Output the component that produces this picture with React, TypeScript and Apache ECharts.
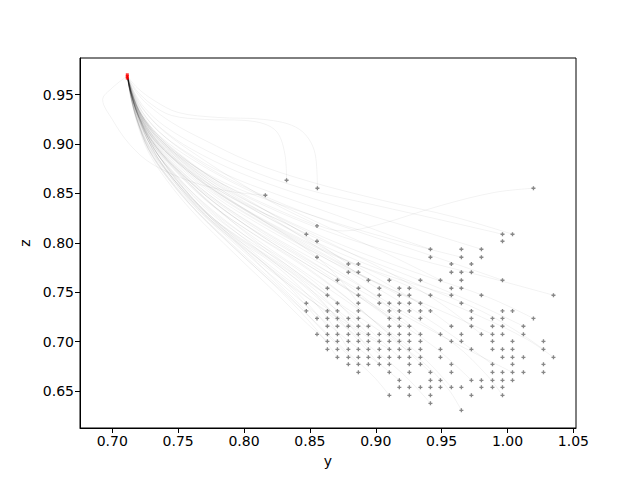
import React, { useEffect, useRef } from 'react';
import * as echarts from 'echarts';

// tick labels
const xTicks = [0.7, 0.75, 0.8, 0.85, 0.9, 0.95, 1.0, 1.05];
const yTicks = [0.65, 0.7, 0.75, 0.8, 0.85, 0.9, 0.95];

// start points (red)
const startPoints: [number, number][] = [
  [0.7114, 0.9668],
  [0.7114, 0.9685],
  [0.7114, 0.9702],
];

// end points, one row per z value: [z, y values]
const pointRows: [number, number[]][] = [
  [0.8634, [0.8323]],
  [0.8553, [0.8557, 1.0197]],
  [0.8482, [0.8162]],
  [0.8171, [0.8554]],
  [0.8087, [0.8473, 0.9962, 1.0038]],
  [0.8016, [0.8554, 0.9962]],
  [0.7935, [0.9415, 0.965, 0.9802]],
  [0.7854, [0.8554, 0.9415, 0.965, 0.9802]],
  [0.7785, [0.8792, 0.8868, 0.9574, 0.9726]],
  [0.7702, [0.8792, 0.8868, 0.9574, 0.965, 0.9726]],
  [0.7621, [0.8709, 0.8944, 0.9103, 0.9339, 0.9491, 0.965, 0.9962]],
  [0.754, [0.8633, 0.8868, 0.9027, 0.9179, 0.9255, 0.9574, 0.965]],
  [0.7469, [0.8633, 0.8868, 0.9027, 0.9179, 0.9255, 0.9415, 0.9574, 0.9802, 1.0349]],
  [0.7388, [0.8473, 0.8709, 0.8868, 0.9027, 0.9103, 0.9179, 0.9255, 0.9339, 0.965]],
  [0.731, [0.8473, 0.8633, 0.8709, 0.8868, 0.9103, 0.9179, 0.9255, 0.9339, 0.9415, 0.9726, 0.9962, 1.0038]],
  [0.7234, [0.8554, 0.8633, 0.8709, 0.8792, 0.8868, 0.9103, 0.9179, 0.9339, 0.9726, 0.9886, 0.9962, 1.0197]],
  [0.7155, [0.8633, 0.8709, 0.8792, 0.8868, 0.8944, 0.9103, 0.9179, 0.9255, 0.9574, 0.9726, 0.9886, 0.9962, 1.0121]],
  [0.7073, [0.8554, 0.8633, 0.8709, 0.8792, 0.8868, 0.8944, 0.9027, 0.9103, 0.9179, 0.9255, 0.9339, 0.9491, 0.965, 0.9802, 0.9886, 0.9962, 1.0121]],
  [0.7002, [0.8633, 0.8709, 0.8792, 0.8868, 0.8944, 0.9027, 0.9103, 0.9179, 0.9255, 0.9339, 0.9574, 0.965, 0.9886, 1.0038, 1.0273]],
  [0.6921, [0.8633, 0.8709, 0.8792, 0.8868, 0.8944, 0.9027, 0.9103, 0.9179, 0.9255, 0.9339, 0.9491, 0.9726, 0.9886, 0.9962, 1.0038, 1.0273]],
  [0.684, [0.8709, 0.8792, 0.8868, 0.8944, 0.9027, 0.9103, 0.9179, 0.9255, 0.9339, 0.9491, 0.9962, 1.0038, 1.0121, 1.0349]],
  [0.6769, [0.8792, 0.8868, 0.8944, 0.9027, 0.9103, 0.9255, 0.9339, 0.9574, 0.9886, 1.0038, 1.0273]],
  [0.6688, [0.8868, 0.9103, 0.9255, 0.9415, 0.9574, 0.9886, 0.9962, 1.0038, 1.0121, 1.0273]],
  [0.6607, [0.9179, 0.9415, 0.9491, 0.9726, 0.9802, 0.9886, 0.9962, 1.0038]],
  [0.6536, [0.9179, 0.9255, 0.9339, 0.9415, 0.9491, 0.9574, 0.965, 0.9802, 0.9886, 0.9962]],
  [0.6455, [0.9103, 0.9255, 0.9415, 0.9726, 0.9962]],
  [0.6374, [0.9415]],
  [0.6303, [0.965]],
];

// trajectories: outer fan
const fanPaths: [number, number][][] = [
  [[0.7114,0.969],[0.7155,0.95],[0.722,0.93],[0.733,0.91],[0.75,0.89],[0.775,0.866],[0.805,0.846],[0.835,0.828],[0.8554,0.8171]],
  [[0.7114,0.969],[0.715,0.948],[0.721,0.926],[0.732,0.904],[0.75,0.882],[0.775,0.858],[0.805,0.836],[0.83,0.821],[0.8473,0.8087]],
  [[0.7114,0.969],[0.716,0.951],[0.723,0.932],[0.735,0.913],[0.755,0.893],[0.785,0.87],[0.825,0.849],[0.87,0.828],[0.91,0.808],[0.9415,0.7935]],
  [[0.7114,0.969],[0.7165,0.953],[0.725,0.936],[0.74,0.918],[0.765,0.898],[0.8,0.876],[0.845,0.855],[0.9,0.838],[0.95,0.823],[0.9962,0.8087]],
  [[0.7114,0.969],[0.717,0.955],[0.727,0.94],[0.745,0.922],[0.77,0.904],[0.805,0.882],[0.85,0.862],[0.905,0.843],[0.96,0.826],[1.0038,0.8087]],
  [[0.7114,0.969],[0.7155,0.949],[0.722,0.928],[0.735,0.906],[0.755,0.884],[0.785,0.861],[0.825,0.84],[0.875,0.818],[0.925,0.799],[0.965,0.7854]],
  [[0.7114,0.969],[0.716,0.952],[0.724,0.934],[0.738,0.915],[0.76,0.895],[0.795,0.872],[0.84,0.85],[0.89,0.83],[0.94,0.81],[0.9802,0.7935]],
  [[0.7114,0.969],[0.7165,0.952],[0.725,0.933],[0.74,0.912],[0.765,0.888],[0.8,0.858],[0.84,0.828],[0.875,0.812],[0.9009,0.818],[0.95,0.838],[0.99,0.851],[1.0197,0.8553]],
  [[0.7114,0.969],[0.718,0.955],[0.73,0.94],[0.745,0.929],[0.77,0.925],[0.8,0.924],[0.823,0.915],[0.831,0.89],[0.8323,0.8634]],
  [[0.7114,0.969],[0.719,0.957],[0.732,0.944],[0.75,0.932],[0.78,0.927],[0.815,0.925],[0.842,0.915],[0.854,0.89],[0.8557,0.8553]],
  [[0.7114,0.969],[0.7,0.957],[0.6927,0.945],[0.7,0.925],[0.713,0.9],[0.73,0.88],[0.76,0.862],[0.79,0.852],[0.8162,0.8482]],
  [[0.7114,0.969],[0.715,0.947],[0.72,0.925],[0.729,0.903],[0.745,0.878],[0.77,0.846],[0.805,0.806],[0.84,0.77],[0.8633,0.7469]],
  [[0.7114,0.969],[0.7145,0.946],[0.7195,0.922],[0.728,0.897],[0.743,0.87],[0.765,0.838],[0.795,0.8],[0.825,0.76],[0.8473,0.731]],
  [[0.7114,0.969],[0.7148,0.947],[0.72,0.924],[0.7285,0.9],[0.744,0.874],[0.768,0.84],[0.805,0.799],[0.845,0.758],[0.8868,0.7155]],
  [[0.7114,0.969],[0.7145,0.946],[0.7195,0.922],[0.7275,0.895],[0.742,0.866],[0.764,0.832],[0.795,0.792],[0.83,0.748],[0.855,0.712],[0.8709,0.684]],
  [[0.7114,0.969],[0.7147,0.946],[0.7198,0.923],[0.7283,0.898],[0.7435,0.871],[0.767,0.837],[0.802,0.796],[0.843,0.753],[0.88,0.718],[0.9027,0.7002]],
  [[0.7114,0.969],[0.7152,0.949],[0.721,0.928],[0.731,0.906],[0.748,0.883],[0.775,0.855],[0.815,0.822],[0.86,0.789],[0.895,0.763],[0.9179,0.7469]],
  [[0.7114,0.969],[0.715,0.948],[0.7205,0.926],[0.73,0.903],[0.746,0.878],[0.772,0.847],[0.81,0.81],[0.855,0.772],[0.895,0.74],[0.9255,0.7155]],
  [[0.7114,0.969],[0.7155,0.95],[0.722,0.929],[0.733,0.908],[0.752,0.885],[0.78,0.858],[0.82,0.826],[0.86,0.792],[0.8944,0.7621]],
  [[0.7114,0.969],[0.7155,0.95],[0.722,0.93],[0.734,0.91],[0.753,0.888],[0.78,0.862],[0.815,0.834],[0.85,0.805],[0.8792,0.7785]],
  [[0.7114,0.969],[0.7146,0.946],[0.7196,0.922],[0.728,0.896],[0.743,0.868],[0.766,0.834],[0.8,0.793],[0.842,0.75],[0.88,0.716],[0.9103,0.6921]],
  [[0.7114,0.969],[0.7145,0.945],[0.7195,0.921],[0.7275,0.895],[0.7425,0.866],[0.765,0.831],[0.798,0.79],[0.835,0.745],[0.865,0.704],[0.8868,0.6769]],
  [[0.7114,0.969],[0.7144,0.945],[0.7192,0.92],[0.727,0.893],[0.741,0.864],[0.762,0.83],[0.792,0.79],[0.825,0.748],[0.848,0.718],[0.8633,0.7002]],
  [[0.7114,0.969],[0.7152,0.949],[0.7212,0.928],[0.7315,0.906],[0.749,0.882],[0.777,0.853],[0.818,0.819],[0.865,0.784],[0.905,0.757],[0.9339,0.7388]],
  [[0.7114,0.969],[0.7146,0.946],[0.7198,0.922],[0.7282,0.897],[0.7435,0.869],[0.767,0.835],[0.803,0.793],[0.845,0.748],[0.885,0.706],[0.92,0.668],[0.9415,0.6374]],
  [[0.7114,0.969],[0.7148,0.947],[0.72,0.924],[0.729,0.9],[0.745,0.873],[0.77,0.84],[0.808,0.8],[0.852,0.757],[0.895,0.718],[0.935,0.68],[0.955,0.652],[0.965,0.6303]],
  [[0.7114,0.969],[0.7145,0.945],[0.7196,0.921],[0.7278,0.895],[0.7428,0.866],[0.766,0.832],[0.8,0.791],[0.84,0.745],[0.878,0.702],[0.905,0.675],[0.9179,0.6607]],
  [[0.7114,0.969],[0.7144,0.945],[0.7194,0.921],[0.7275,0.894],[0.7422,0.865],[0.765,0.83],[0.798,0.788],[0.837,0.741],[0.872,0.697],[0.898,0.665],[0.9103,0.6455]],
  [[0.7114,0.969],[0.715,0.948],[0.7204,0.925],[0.7295,0.902],[0.7455,0.876],[0.771,0.843],[0.81,0.803],[0.855,0.762],[0.898,0.722],[0.935,0.685],[0.9574,0.6536]],
  [[0.7114,0.969],[0.7152,0.949],[0.7208,0.927],[0.7305,0.904],[0.747,0.879],[0.774,0.848],[0.815,0.812],[0.865,0.774],[0.915,0.735],[0.96,0.697],[0.985,0.665],[0.9962,0.6455]],
  [[0.7114,0.969],[0.715,0.948],[0.7206,0.926],[0.73,0.903],[0.7462,0.878],[0.7725,0.846],[0.812,0.808],[0.86,0.768],[0.905,0.73],[0.945,0.694],[0.9726,0.6607]],
  [[0.7114,0.969],[0.7158,0.951],[0.7225,0.931],[0.734,0.91],[0.753,0.887],[0.782,0.861],[0.825,0.832],[0.875,0.806],[0.93,0.784],[0.985,0.765],[1.0349,0.7469]],
  [[0.7114,0.969],[0.7154,0.95],[0.7214,0.929],[0.732,0.907],[0.75,0.883],[0.778,0.853],[0.82,0.82],[0.87,0.787],[0.925,0.756],[0.98,0.725],[1.015,0.702],[1.0349,0.684]],
  [[0.7114,0.969],[0.7155,0.95],[0.7218,0.929],[0.7325,0.907],[0.751,0.884],[0.779,0.855],[0.822,0.823],[0.872,0.79],[0.928,0.76],[0.98,0.731],[1.01,0.708],[1.0273,0.6921]],
  [[0.7114,0.969],[0.7157,0.951],[0.7222,0.93],[0.7335,0.909],[0.752,0.886],[0.781,0.858],[0.824,0.828],[0.874,0.798],[0.93,0.77],[0.985,0.745],[1.0197,0.7234]],
  [[0.7114,0.969],[0.7153,0.949],[0.7212,0.928],[0.7315,0.905],[0.749,0.881],[0.776,0.851],[0.817,0.817],[0.865,0.782],[0.915,0.751],[0.96,0.725],[0.9886,0.7073]],
  [[0.7114,0.969],[0.7156,0.95],[0.722,0.93],[0.733,0.908],[0.7515,0.885],[0.78,0.856],[0.823,0.825],[0.873,0.794],[0.928,0.765],[0.975,0.739],[1.0121,0.7155]],
  [[0.7114,0.969],[0.716,0.952],[0.7232,0.932],[0.736,0.912],[0.757,0.89],[0.788,0.865],[0.832,0.838],[0.885,0.812],[0.94,0.788],[0.9962,0.7621]],
  [[0.7114,0.969],[0.7154,0.949],[0.7215,0.928],[0.732,0.906],[0.75,0.882],[0.778,0.853],[0.82,0.819],[0.87,0.786],[0.92,0.762],[0.9574,0.7469]],
  [[0.7114,0.969],[0.7151,0.948],[0.7207,0.926],[0.7302,0.903],[0.7465,0.878],[0.7735,0.847],[0.814,0.81],[0.863,0.771],[0.913,0.733],[0.958,0.7],[1.0038,0.6688]],
];

// trajectories: dense core band
const bandPaths: [number, number][][] = [
  [[0.7114,0.969],[0.7134,0.955],[0.7197,0.929],[0.731,0.897],[0.749,0.864],[0.772,0.83],[0.795,0.806],[0.82,0.784],[0.845,0.76],[0.8709,0.7234]],
  [[0.7114,0.969],[0.7134,0.955],[0.7195,0.928],[0.7305,0.895],[0.748,0.862],[0.771,0.828],[0.795,0.803],[0.822,0.779],[0.85,0.745],[0.868,0.715],[0.8792,0.6921]],
  [[0.7114,0.969],[0.7136,0.954],[0.72,0.928],[0.732,0.897],[0.751,0.865],[0.775,0.833],[0.8,0.808],[0.83,0.783],[0.86,0.753],[0.8944,0.7073]],
  [[0.7114,0.969],[0.7138,0.953],[0.7205,0.927],[0.733,0.899],[0.753,0.87],[0.778,0.84],[0.805,0.815],[0.838,0.789],[0.875,0.757],[0.9103,0.7234]],
  [[0.7114,0.969],[0.7135,0.954],[0.7198,0.928],[0.7315,0.896],[0.75,0.864],[0.774,0.831],[0.8,0.805],[0.832,0.778],[0.865,0.745],[0.895,0.712],[0.9179,0.684]],
  [[0.7114,0.969],[0.714,0.953],[0.721,0.927],[0.734,0.9],[0.755,0.872],[0.78,0.845],[0.81,0.82],[0.845,0.793],[0.885,0.76],[0.91,0.735],[0.9339,0.7073]],
  [[0.7114,0.969],[0.7134,0.955],[0.7196,0.929],[0.731,0.897],[0.749,0.863],[0.772,0.829],[0.796,0.804],[0.825,0.778],[0.855,0.745],[0.882,0.708],[0.9027,0.6769]],
  [[0.7114,0.969],[0.7133,0.955],[0.7195,0.928],[0.7305,0.895],[0.748,0.862],[0.77,0.829],[0.79,0.806],[0.81,0.785],[0.833,0.757],[0.8554,0.7234]],
  [[0.7114,0.969],[0.714,0.953],[0.7215,0.927],[0.735,0.902],[0.757,0.876],[0.785,0.848],[0.815,0.822],[0.845,0.796],[0.868,0.77],[0.8868,0.7388]],
  [[0.7114,0.969],[0.7137,0.954],[0.7202,0.928],[0.7325,0.898],[0.752,0.868],[0.777,0.837],[0.805,0.811],[0.838,0.784],[0.872,0.751],[0.902,0.717],[0.9255,0.6921]],
  [[0.7114,0.969],[0.7145,0.952],[0.7225,0.929],[0.737,0.907],[0.76,0.885],[0.79,0.862],[0.825,0.84],[0.865,0.815],[0.91,0.788],[0.9491,0.7621]],
  [[0.7114,0.969],[0.7142,0.953],[0.722,0.928],[0.736,0.903],[0.758,0.877],[0.787,0.85],[0.82,0.824],[0.86,0.795],[0.9,0.765],[0.935,0.737],[0.9574,0.7155]],
  [[0.7114,0.969],[0.7138,0.954],[0.7204,0.928],[0.733,0.898],[0.753,0.868],[0.778,0.836],[0.807,0.809],[0.842,0.779],[0.878,0.744],[0.912,0.705],[0.9415,0.6688]],
  [[0.7114,0.969],[0.7132,0.955],[0.7193,0.929],[0.73,0.896],[0.747,0.862],[0.768,0.83],[0.79,0.805],[0.815,0.779],[0.84,0.75],[0.8633,0.7155]],
  [[0.7114,0.969],[0.7143,0.953],[0.7218,0.928],[0.735,0.901],[0.756,0.874],[0.784,0.845],[0.817,0.818],[0.857,0.788],[0.9,0.755],[0.945,0.718],[0.9886,0.6769]],
  [[0.7114,0.969],[0.7144,0.953],[0.7222,0.929],[0.737,0.904],[0.759,0.879],[0.789,0.853],[0.823,0.828],[0.865,0.8],[0.91,0.77],[0.95,0.738],[0.9802,0.7073]],
  [[0.7114,0.969],[0.7135,0.955],[0.7197,0.929],[0.731,0.897],[0.749,0.864],[0.772,0.83],[0.797,0.805],[0.826,0.78],[0.856,0.75],[0.878,0.72],[0.8944,0.6921]],
  [[0.7114,0.969],[0.7139,0.954],[0.7208,0.928],[0.7335,0.9],[0.754,0.871],[0.78,0.842],[0.809,0.816],[0.843,0.788],[0.88,0.756],[0.9179,0.7155]],
];

const font = 'DejaVu Sans, sans-serif';
const plus = 'path://M1,0H2V1H3V2H2V3H1V2H0V1H1Z';

const App: React.FC = () => {
  const chartRef = useRef<HTMLDivElement | null>(null);

  useEffect(() => {
    if (!chartRef.current) return;
    const myChart = echarts.init(chartRef.current, undefined, { renderer: 'svg' });

    const endPoints: [number, number][] = [];
    pointRows.forEach(([z, ys]) => ys.forEach(y => endPoints.push([y, z])));

    const lineSeries = [...fanPaths, ...bandPaths].map(p => ({
      type: 'line',
      data: p,
      smooth: 0.35,
      showSymbol: false,
      silent: true,
      z: 1,
      lineStyle: { color: '#000', width: 0.6, opacity: 0.09 },
    }));

    const option = {
      animation: false,
      backgroundColor: '#fff',
      grid: {
        left: 80, right: 64, top: 58, bottom: 52,
        show: true, borderColor: '#000', borderWidth: 1,
      },
      xAxis: {
        type: 'value',
        min: 0.6755,
        max: 1.052,
        name: 'y',
        nameLocation: 'middle',
        nameGap: 26,
        nameTextStyle: { fontFamily: font, fontSize: 14, color: '#000' },
        axisLine: { show: true, lineStyle: { color: '#000', width: 1 } },
        axisTick: { show: true, length: 5, customValues: xTicks, lineStyle: { color: '#000' } },
        axisLabel: {
          customValues: xTicks,
          formatter: (v: number) => v.toFixed(2),
          fontFamily: font, fontSize: 14, color: '#000', margin: 6,
        },
        splitLine: { show: false },
      },
      yAxis: {
        type: 'value',
        min: 0.6124,
        max: 0.9872,
        name: 'z',
        nameLocation: 'middle',
        nameGap: 44,
        nameTextStyle: { fontFamily: font, fontSize: 14, color: '#000' },
        axisLine: { show: true, lineStyle: { color: '#000', width: 1 } },
        axisTick: { show: true, length: 5, customValues: yTicks, lineStyle: { color: '#000' } },
        axisLabel: {
          customValues: yTicks,
          formatter: (v: number) => v.toFixed(2),
          fontFamily: font, fontSize: 14, color: '#000', margin: 6,
        },
        splitLine: { show: false },
      },
      series: [
        ...lineSeries,
        {
          type: 'scatter',
          data: endPoints,
          symbol: plus,
          symbolSize: 4,
          silent: true,
          z: 3,
          itemStyle: { color: '#555', opacity: 0.7 },
        },
        {
          type: 'scatter',
          data: startPoints,
          symbol: 'rect',
          symbolSize: 3,
          silent: true,
          z: 4,
          itemStyle: { color: '#ff0000' },
        },
      ],
    };

    myChart.setOption(option);

    return () => {
      myChart.dispose();
    };
  }, []);

  return (
    <div
      ref={chartRef}
      style={{ position: 'fixed', left: 0, top: 0, width: 640, height: 480 }}
    ></div>
  );
};

export default App;
